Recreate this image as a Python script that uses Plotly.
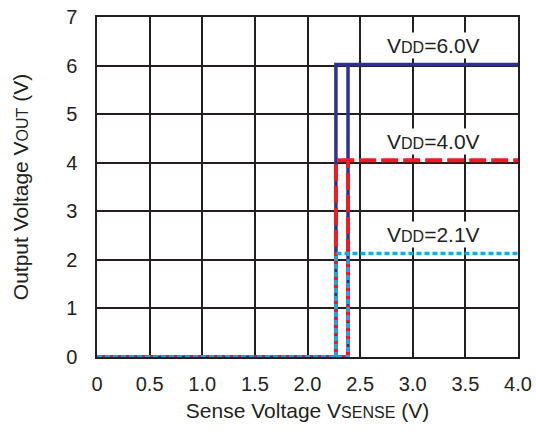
import plotly.graph_objects as go

# Data
vdd_labels = ["6.0", "4.0", "2.1"]
vout_high = [6.02, 4.05, 2.13]
v_rise = 2.385   # detect release voltage (upward transition)
v_fall = 2.27    # detect voltage (downward transition)
x_max = 4.0
colors = ["#2E3192", "#ED1C24", "#1CA6E8"]
dashes = ["solid", "17px,5px", "5px,3px"]
widths = [3.5, 4, 3.5]
x_ticks = [0, 0.5, 1.0, 1.5, 2.0, 2.5, 3.0, 3.5, 4.0]
x_tick_text = ["0", "0.5", "1.0", "1.5", "2.0", "2.5", "3.0", "3.5", "4.0"]
y_ticks = [0, 1, 2, 3, 4, 5, 6, 7]

FONT = "Liberation Sans, Arial, sans-serif"
INK = "#231F20"
FS = 20
FT = 21
SM = "<span style='font-size:16px'>%s</span>"
fig = go.Figure()
for lab, vh, c, d, w in zip(vdd_labels, vout_high, colors, dashes, widths):
    # rising path (low until v_rise) and falling path (high down to v_fall)
    xs = [0, v_rise, v_rise, None, v_fall, v_fall, x_max]
    ys = [0, 0, vh, None, 0, vh, vh]
    fig.add_trace(go.Scatter(x=xs, y=ys, mode="lines", connectgaps=False,
                             line=dict(color=c, dash=d, width=w),
                             showlegend=False, hoverinfo="skip"))
    fig.add_annotation(x=3.2, y=vh, yshift=19, xref="x", yref="y",
                       text="V" + SM % "DD" + "=" + lab + "V",
                       showarrow=False, bgcolor="white", borderpad=1,
                       font=dict(size=FT, color=INK, family=FONT))

fig.update_layout(
    width=536, height=434,
    margin=dict(l=97, r=18, t=17, b=77),
    paper_bgcolor="white", plot_bgcolor="white",
    font=dict(family=FONT, size=FS, color=INK),
)
fig.update_xaxes(range=[0, 4], tickvals=x_ticks, ticktext=x_tick_text,
                 tickfont=dict(size=FS, family=FONT, color=INK), automargin=False,
                 showgrid=True, gridcolor=INK, gridwidth=1.5,
                 showline=True, linecolor=INK, linewidth=1.5, mirror=True,
                 ticks="", ticklabelstandoff=8, zeroline=False,
                 title=dict(text="Sense Voltage V" + SM % "SENSE" + " (V)",
                            standoff=10, font=dict(size=FT, family=FONT, color=INK)))
fig.update_yaxes(range=[0, 7], tickvals=y_ticks,
                 tickfont=dict(size=FS, family=FONT, color=INK), automargin=False,
                 showgrid=True, gridcolor=INK, gridwidth=1.5,
                 showline=True, linecolor=INK, linewidth=1.5, mirror=True,
                 ticks="", ticklabelstandoff=14, zeroline=False,
                 title=dict(text="Output Voltage V" + SM % "OUT" + " (V)",
                            standoff=32, font=dict(size=FT, family=FONT, color=INK)))
fig.write_html("out.html", config={"displayModeBar": False},
               post_script="document.body.style.margin='0';")
